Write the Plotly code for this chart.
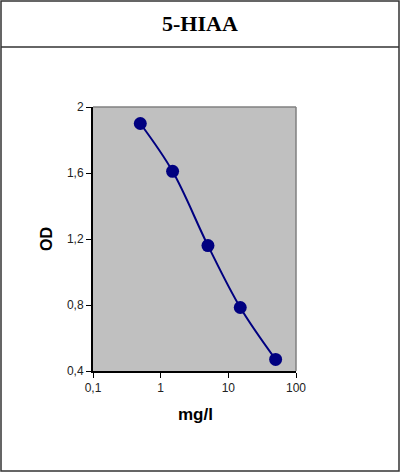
import plotly.graph_objects as go

conc = [0.5, 1.5, 5, 15, 50]
od = [1.90, 1.61, 1.16, 0.785, 0.47]

y_ticks = [0.4, 0.8, 1.2, 1.6, 2.0]
y_text = ['0,4', '0,8', '1,2', '1,6', '2']
x_ticks = [0.1, 1, 10, 100]
x_text = ['0,1', '1', '10', '100']

W, H = 400, 472
L, R, T, B = 93, 296, 107, 371


def px(x):
    return (x - L) / (R - L)


def py(y):
    return (B - y) / (B - T)


fig = go.Figure()
fig.add_trace(go.Scatter(x=conc, y=od, mode='lines+markers',
                         line=dict(color='#000080', width=2, shape='spline'),
                         marker=dict(color='#000080', size=13),
                         cliponaxis=False, showlegend=False))

fig.update_xaxes(type='log', range=[-1, 2], tickvals=x_ticks, ticktext=x_text,
                 ticks='outside', ticklen=5, tickcolor='black', tickwidth=1,
                 showline=True, linecolor='black', linewidth=2,
                 showgrid=False, zeroline=False,
                 tickfont=dict(family='Arial, Liberation Sans', size=12, color='#222'))
fig.update_yaxes(range=[0.4, 2.0], tickvals=y_ticks, ticktext=y_text,
                 ticks='outside', ticklen=5, tickcolor='black', tickwidth=1,
                 showline=True, linecolor='black', linewidth=2,
                 showgrid=False, zeroline=False,
                 tickfont=dict(family='Arial, Liberation Sans', size=12, color='#222'))

# outer frame, title cell divider, plot-area grey border
fig.add_shape(type='rect', xref='paper', yref='paper',
              x0=px(1), x1=px(399), y0=py(471), y1=py(1),
              line=dict(color='#333', width=1.5), layer='below')
fig.add_shape(type='line', xref='paper', yref='paper',
              x0=px(1), x1=px(399), y0=py(47), y1=py(47),
              line=dict(color='#333', width=1.5))
fig.add_shape(type='line', xref='paper', yref='paper',
              x0=0, x1=1, y0=1, y1=1, line=dict(color='#808080', width=1.5))
fig.add_shape(type='line', xref='paper', yref='paper',
              x0=1, x1=1, y0=0, y1=1, line=dict(color='#808080', width=1.5))

fig.add_annotation(text='<b>5-HIAA</b>', xref='paper', yref='paper',
                   x=px(200), y=py(24), showarrow=False,
                   xanchor='center', yanchor='middle',
                   font=dict(family='Times New Roman, Liberation Serif', size=22, color='black'))
fig.add_annotation(text='<b>mg/l</b>', xref='paper', yref='paper',
                   x=px(195), y=py(414), showarrow=False,
                   xanchor='center', yanchor='middle',
                   font=dict(family='Arial, Liberation Sans', size=17, color='black'))
fig.add_annotation(text='<b>OD</b>', xref='paper', yref='paper',
                   x=px(46), y=py(239), showarrow=False, textangle=-90,
                   xanchor='center', yanchor='middle',
                   font=dict(family='Arial, Liberation Sans', size=16, color='black'))

fig.update_layout(width=W, height=H,
                  margin=dict(l=L, r=W - R, t=T, b=H - B),
                  plot_bgcolor='#c0c0c0', paper_bgcolor='white')

fig.write_html("out.html", config={'displayModeBar': False},
               post_script="document.body.style.margin='0';document.body.style.overflow='hidden';")
